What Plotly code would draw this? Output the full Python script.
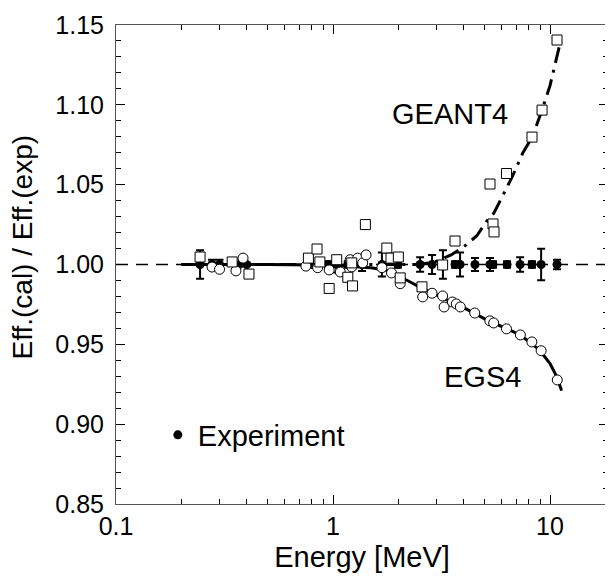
import numpy as np
import plotly.graph_objects as go

# ---------------- data ----------------
exp_E = [0.244, 0.277, 0.30, 0.37, 0.40, 0.78, 0.95, 1.04, 1.17, 1.36, 1.68, 1.99,
         2.52, 2.86, 3.21, 3.65, 3.85, 4.51, 5.29, 5.46, 6.34, 7.28, 8.26, 9.1, 10.77]
exp_ratio = [1.0] * len(exp_E)
exp_err = [0.009, 0.003, 0.003, 0.001, 0.001, 0.002, 0.002, 0.005, 0.002, 0.004, 0.0075, 0.002,
           0.0045, 0.006, 0.009, 0.002, 0.0075, 0.004, 0.004, 0.002, 0.002, 0.0045, 0.002, 0.0098, 0.003]

geant_E = [0.244, 0.343, 0.41, 0.77, 0.844, 0.87, 0.96, 1.04, 1.17, 1.22, 1.23, 1.41,
           1.77, 1.85, 2.0, 2.04, 2.57, 3.2, 3.65, 5.29, 5.46, 5.52, 6.3, 8.26, 9.19, 10.77]
geant_ratio = [1.0047, 1.0016, 0.994, 1.004, 1.0097, 1.0016, 0.985, 1.003, 0.992, 1.001, 0.9866, 1.025,
               1.0103, 1.004, 1.0047, 0.9916, 0.986, 0.9997, 1.0147, 1.0504, 1.0254, 1.0204, 1.057,
               1.0798, 1.0967, 1.1406]

egs_E = [0.277, 0.30, 0.357, 0.385, 0.75, 0.85, 0.96, 1.08, 1.2, 1.22, 1.30, 1.37, 1.42,
         1.68, 1.86, 2.04, 2.59, 2.86, 3.2, 3.25, 3.55, 3.7, 3.86, 4.5, 5.28, 5.5, 6.3,
         7.3, 8.25, 9.1, 10.8]
egs_ratio = [0.9984, 0.997, 0.996, 1.004, 0.999, 0.998, 0.9966, 0.9953, 1.003, 0.9985, 1.004, 1.001,
             1.006, 0.998, 0.9947, 0.988, 0.9797, 0.982, 0.9803, 0.9734, 0.9765, 0.9753, 0.9734,
             0.9696, 0.9647, 0.9634, 0.9597, 0.9559, 0.9515, 0.9460, 0.9277]

egs_fit_E = [0.2, 0.5, 1.0, 1.5, 1.8, 2.0, 2.2, 2.5, 3.0, 3.5, 4.0, 5.0, 6.0, 7.0, 8.0, 9.0,
             10.0, 10.8, 11.3]
egs_fit = [1.0, 1.0, 0.9995, 0.998, 0.996, 0.993, 0.990, 0.986, 0.981, 0.977, 0.973, 0.966,
           0.961, 0.957, 0.952, 0.946, 0.938, 0.929, 0.921]

geant_fit_E = [0.2, 1.0, 2.0, 2.5, 3.0, 3.5, 4.0, 4.6, 5.1, 5.5, 6.0, 6.7, 7.5, 8.3, 9.2,
               10.0, 11.1]
geant_fit = [1.0, 1.0, 1.0, 1.0, 1.002, 1.006, 1.011, 1.018, 1.027, 1.032, 1.042, 1.055, 1.070,
             1.080, 1.097, 1.112, 1.138]

x_major = [0.1, 1, 10]
x_major_text = ["0.1", "1", "10"]
x_minor = [0.2, 0.3, 0.4, 0.5, 0.6, 0.7, 0.8, 0.9, 2, 3, 4, 5, 6, 7, 8, 9]
y_major = [0.85, 0.90, 0.95, 1.00, 1.05, 1.10, 1.15]

FONT = "Arial, Liberation Sans, sans-serif"

fig = go.Figure()

fig.add_trace(go.Scatter(x=egs_fit_E, y=egs_fit, mode="lines",
                         line=dict(color="black", width=3), showlegend=False))
fig.add_trace(go.Scatter(x=geant_fit_E, y=geant_fit, mode="lines",
                         line=dict(color="black", width=3, dash="16px,7px,3px,7px"), showlegend=False))

fig.add_trace(go.Scatter(x=exp_E, y=exp_ratio, mode="markers", name="Experiment",
                         marker=dict(color="black", size=9, symbol="circle"),
                         error_y=dict(type="data", array=exp_err, color="black", thickness=2, width=4),
                         showlegend=True))
fig.add_trace(go.Scatter(x=egs_E, y=egs_ratio, mode="markers", name="EGS4",
                         marker=dict(color="white", size=10, symbol="circle",
                                     line=dict(color="black", width=1)),
                         showlegend=False))
fig.add_trace(go.Scatter(x=geant_E, y=geant_ratio, mode="markers", name="GEANT4",
                         marker=dict(color="white", size=10, symbol="square",
                                     line=dict(color="black", width=1)),
                         showlegend=False))

fig.add_shape(type="line", xref="paper", yref="y", x0=0, x1=1, y0=1.0, y1=1.0,
              line=dict(color="black", width=1.5, dash="12px,8px"), layer="below")

fig.add_annotation(x=np.log10(3.47), y=1.0942, text="GEANT4", showarrow=False,
                   font=dict(family=FONT, size=29, color="black"))
fig.add_annotation(x=np.log10(4.91), y=0.9296, text="EGS4", showarrow=False,
                   font=dict(family=FONT, size=29, color="black"))
# y-axis title (placed as annotation so it can sit slightly above centre, as in the original)
fig.add_annotation(xref="paper", yref="paper", x=-0.191, y=0.5355, text="Eff.(cal) / Eff.(exp)",
                   textangle=-90, showarrow=False, xanchor="center", yanchor="middle",
                   font=dict(family=FONT, size=28, color="black"))

axis_line = "#555555"
fig.update_layout(
    width=605, height=571,
    margin=dict(l=108, r=5, t=17, b=75, autoexpand=False),
    plot_bgcolor="white", paper_bgcolor="white",
    font=dict(family=FONT, color="black"),
    legend=dict(x=0.085, y=0.144, xanchor="left", yanchor="middle",
                bgcolor="rgba(0,0,0,0)", font=dict(size=29, family=FONT)),
    xaxis=dict(type="log", range=[np.log10(0.1), np.log10(18.5)], automargin=False,
               tickvals=x_major, ticktext=x_major_text, ticks="inside", ticklen=9,
               tickwidth=1, tickcolor="black", ticklabelstandoff=0,
               minor=dict(tickvals=x_minor, ticks="inside", ticklen=5, tickcolor="black", tickwidth=1),
               showline=True, linecolor=axis_line, linewidth=1, mirror="ticks",
               showgrid=False, zeroline=False,
               tickfont=dict(size=25, family=FONT),
               title=dict(text="Energy [MeV]", font=dict(size=29, family=FONT), standoff=7)),
    yaxis=dict(range=[0.85, 1.15], tickvals=y_major, tickformat=".2f", automargin=False,
               ticks="inside", ticklen=9, tickwidth=1, tickcolor="black", ticklabelstandoff=6,
               minor=dict(dtick=0.01, ticks="inside", ticklen=5, tickcolor="black", tickwidth=1),
               showline=True, linecolor=axis_line, linewidth=1, mirror="ticks",
               showgrid=False, zeroline=False,
               tickfont=dict(size=25, family=FONT)),
)

fig.write_html("out.html")
